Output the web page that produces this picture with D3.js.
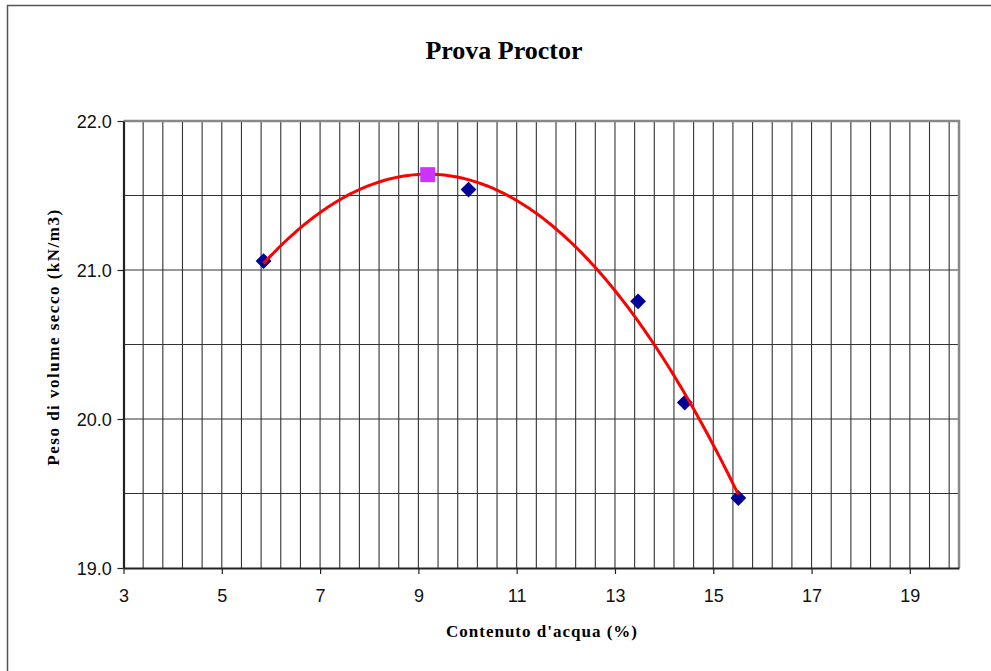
<!DOCTYPE html>
<html>
<head>
<meta charset="utf-8">
<script src="https://cdn.jsdelivr.net/npm/d3@7"></script>
<style>
  html, body { margin: 0; padding: 0; background: #fff; }
  svg { display: block; }
</style>
</head>
<body>
<svg id="chart" width="991" height="671"></svg>
<script>
// Proctor test: water content (%) vs dry unit weight (kN/m3)
const waterContent = [5.85, 10.02, 13.47, 14.42, 15.51];
const dryUnitWeight = [21.06, 21.54, 20.79, 20.11, 19.47];
// optimum (peak of the fitted curve)
const optimumWater = [9.19];
const optimumWeight = [21.64];

const xTicks = [3, 5, 7, 9, 11, 13, 15, 17, 19];
const yTicks = [19.0, 20.0, 21.0, 22.0];

const svg = d3.select("#chart");
const W = 991, H = 671;
const plot = { left: 123.5, right: 959, top: 121, bottom: 568 };

const x = d3.scaleLinear().domain([3, 20]).range([plot.left, plot.right]);
const y = d3.scaleLinear().domain([19, 22]).range([plot.bottom, plot.top]);

// outer frame
svg.append("rect")
  .attr("x", 7.5).attr("y", 5.5)
  .attr("width", W).attr("height", H)
  .attr("fill", "none").attr("stroke", "#555").attr("stroke-width", 1.5);

// gridlines
const vGrid = d3.range(0, 43).map(i => +(3 + i * 0.4).toFixed(2)).filter(v => v > 3 && v < 20);
const hGrid = d3.range(19.5, 22, 0.5);
svg.append("g").selectAll("line").data(vGrid).join("line")
  .attr("x1", d => x(d)).attr("x2", d => x(d))
  .attr("y1", plot.top).attr("y2", plot.bottom)
  .attr("stroke", "#333").attr("stroke-width", 1.1);
svg.append("g").selectAll("line").data(hGrid).join("line")
  .attr("x1", plot.left).attr("x2", plot.right)
  .attr("y1", d => y(d)).attr("y2", d => y(d))
  .attr("stroke", "#333").attr("stroke-width", 1.1);

// top and right plot border
svg.append("path")
  .attr("d", `M${plot.left},${plot.top}H${plot.right}V${plot.bottom}`)
  .attr("fill", "none").attr("stroke", "#888").attr("stroke-width", 2.5);

// axes
const xAxis = d3.axisBottom(x).tickValues(xTicks).tickSize(6).tickSizeOuter(0).tickFormat(d3.format("d"));
const yAxis = d3.axisLeft(y).tickValues(yTicks).tickSize(6).tickSizeOuter(0).tickFormat(d3.format(".1f"));

const gx = svg.append("g").attr("transform", `translate(0,${plot.bottom})`).call(xAxis);
const gy = svg.append("g").attr("transform", `translate(${plot.left},0)`).call(yAxis);
[gx, gy].forEach(g => {
  g.select(".domain").attr("stroke", "#222").attr("stroke-width", 2.2);
  g.selectAll(".tick line").attr("stroke", "#222").attr("stroke-width", 1.2);
  g.selectAll(".tick text")
    .attr("font-family", "'Liberation Sans', Arial, sans-serif")
    .attr("font-size", 18).attr("fill", "#111");
});
gx.selectAll(".tick text").attr("dy", "25px");
gy.selectAll(".tick text").attr("dx", "-0.15em").attr("dy", "0.36em");

// second-order polynomial trendline by least squares
function polyFit(xs, ys, order) {
  const n = order + 1;
  const A = Array.from({ length: n }, () => new Array(n + 1).fill(0));
  for (let r = 0; r < n; r++) {
    for (let c = 0; c < n; c++) A[r][c] = d3.sum(xs, v => Math.pow(v, r + c));
    A[r][n] = d3.sum(xs, (v, i) => Math.pow(v, r) * ys[i]);
  }
  for (let i = 0; i < n; i++) {
    let p = i;
    for (let k = i + 1; k < n; k++) if (Math.abs(A[k][i]) > Math.abs(A[p][i])) p = k;
    [A[i], A[p]] = [A[p], A[i]];
    for (let k = i + 1; k < n; k++) {
      const f = A[k][i] / A[i][i];
      for (let j = i; j <= n; j++) A[k][j] -= f * A[i][j];
    }
  }
  const coef = new Array(n).fill(0);
  for (let i = n - 1; i >= 0; i--) {
    let s = A[i][n];
    for (let j = i + 1; j < n; j++) s -= A[i][j] * coef[j];
    coef[i] = s / A[i][i];
  }
  return v => coef.reduce((acc, c, i) => acc + c * Math.pow(v, i), 0);
}
const fit = polyFit(waterContent, dryUnitWeight, 2);
const [xMin, xMax] = d3.extent(waterContent);
const trend = d3.range(0, 201).map(i => {
  const xv = xMin + (xMax - xMin) * i / 200;
  return [xv, fit(xv)];
});

// data points
svg.append("g").selectAll("path").data(waterContent).join("path")
  .attr("d", d3.symbol(d3.symbolSquare, 125))
  .attr("transform", (d, i) => `translate(${x(d)},${y(dryUnitWeight[i])}) rotate(45)`)
  .attr("fill", "#000099");

svg.append("path")
  .datum(trend)
  .attr("d", d3.line().x(d => x(d[0])).y(d => y(d[1])))
  .attr("fill", "none").attr("stroke", "#ff0000").attr("stroke-width", 3);

// optimum marker
svg.append("g").selectAll("rect").data(optimumWater).join("rect")
  .attr("x", d => x(d) - 7.5).attr("y", (d, i) => y(optimumWeight[i]) - 7.5)
  .attr("width", 15).attr("height", 15)
  .attr("fill", "#cc33ff");

// titles
const serif = "'Liberation Serif', 'Times New Roman', serif";
svg.append("text")
  .attr("x", 504).attr("y", 59)
  .attr("text-anchor", "middle")
  .attr("font-family", serif).attr("font-weight", "bold").attr("font-size", 26)
  .text("Prova Proctor");

svg.append("text")
  .attr("x", 542).attr("y", 637)
  .attr("text-anchor", "middle")
  .attr("font-family", serif).attr("font-weight", "bold").attr("font-size", 17)
  .attr("letter-spacing", 1)
  .text("Contenuto d'acqua (%)");

svg.append("text")
  .attr("transform", `translate(59,337) rotate(-90)`)
  .attr("text-anchor", "middle")
  .attr("font-family", serif).attr("font-weight", "bold").attr("font-size", 17)
  .attr("letter-spacing", 1.5)
  .text("Peso di volume secco (kN/m3)");
</script>
</body>
</html>
